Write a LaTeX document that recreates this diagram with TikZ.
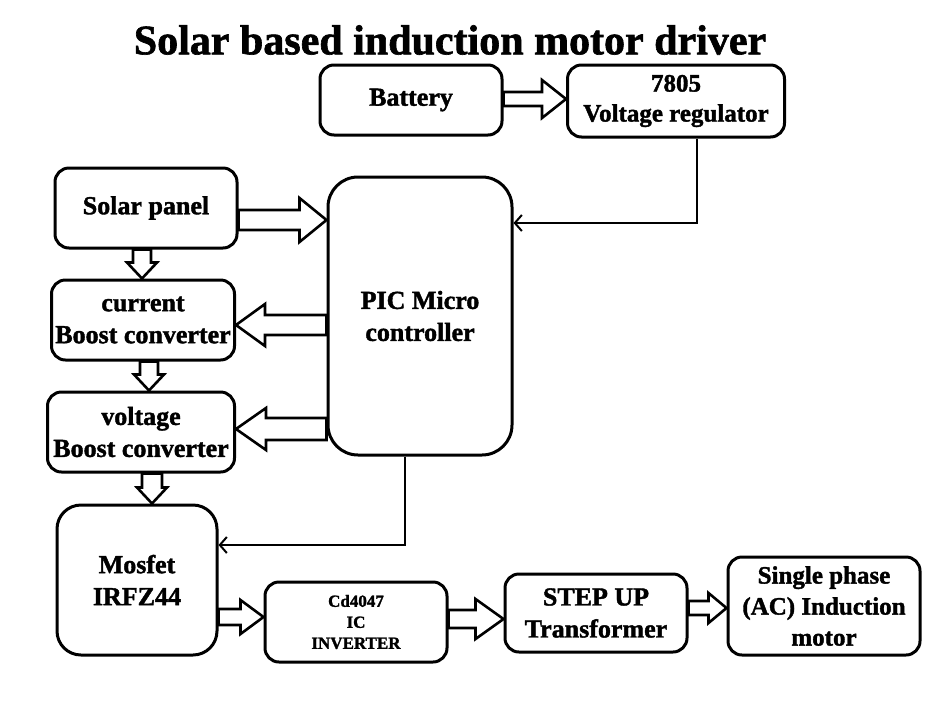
\documentclass[tikz,border=0pt]{standalone}
\usepackage{fontspec}
\setmainfont[BoldFeatures={FakeBold=1.5}]{Liberation Serif}
\usetikzlibrary{arrows.meta,positioning,calc}

% hollow block arrow: from, to, half shaft, half head, head length
\newcommand{\blockarrow}[5]{%
  \coordinate (ba-a) at (#1);
  \coordinate (ba-b) at (#2);
  \coordinate (ba-m) at ($(ba-b)!#5!(ba-a)$);
  \draw[blockarr] ($(ba-a)!#3!90:(ba-b)$) -- ($(ba-m)!#3!-90:(ba-a)$) -- ($(ba-m)!#4!-90:(ba-a)$) -- (ba-b)
    -- ($(ba-m)!#4!90:(ba-a)$) -- ($(ba-m)!#3!90:(ba-a)$) -- ($(ba-a)!#3!-90:(ba-b)$) -- cycle;
}

\begin{document}
\begin{tikzpicture}[x=1pt,y=-1pt,
  font=\bfseries\fontsize{26}{32}\selectfont,
  blk/.style={draw,line width=3pt,rounded corners=14pt,align=center,inner sep=0pt},
  blockarr/.style={draw,line width=2.6pt,fill=white,line join=miter},
  sig/.style={line width=2pt,-{Straight Barb[length=7pt,width=16pt,line width=2pt]}}]
\useasboundingbox (0,0) rectangle (937,705);
\node (title) at (450,40) {\fontsize{42}{46}\selectfont Solar based induction motor driver};
% top row
\node[blk,minimum width=182,minimum height=70] (bat) at (411,100) {Battery};
\node[blk,minimum width=217,minimum height=72,font=\bfseries\fontsize{25}{30}\selectfont] (reg) at (676,101) {7805\\Voltage regulator};
% left column
\node[blk,minimum width=182,minimum height=80] (sol) at (146,208) {Solar panel};
\node[blk,minimum width=183,minimum height=80] (cur) at (143,320) {current\\Boost converter};
\node[blk,minimum width=187,minimum height=80] (vol) at (141,432) {voltage\\Boost converter};
\node[blk,minimum width=160,minimum height=150,rounded corners=24pt] (mos) at (137,580) {Mosfet\\IRFZ44};
\node[blk,minimum width=184,minimum height=278,rounded corners=30pt] (pic) at (420,316) {PIC Micro\\controller};
% bottom row
\node[blk,minimum width=182,minimum height=80,font=\bfseries\fontsize{17}{21}\selectfont] (ic) at (356,622) {Cd4047\\IC\\INVERTER};
\node[blk,minimum width=182,minimum height=78] (stp) at (596,613) {STEP UP\\Transformer};
\node[blk,minimum width=192,minimum height=98,font=\bfseries\fontsize{25}{31}\selectfont] (mot) at (824,606) {Single phase\\(AC) Induction\\motor};

\blockarrow{bat.east |- 0,99}{reg.west |- 0,99}{7pt}{19pt}{24pt}
\blockarrow{sol.east |- 0,220}{pic.west |- 0,220}{10pt}{22pt}{27pt}
\blockarrow{sol.south -| 142,0}{cur.north -| 142,0}{9pt}{15pt}{16pt}
\blockarrow{cur.south -| 149,0}{vol.north -| 149,0}{9pt}{15pt}{16pt}
\blockarrow{vol.south -| 152,0}{mos.north -| 152,0}{10pt}{15pt}{16pt}
\blockarrow{pic.west |- 0,325}{cur.east |- 0,325}{10pt}{21pt}{29pt}
\blockarrow{pic.west |- 0,429}{vol.east |- 0,429}{11pt}{21pt}{30pt}
\blockarrow{mos.east |- 0,617}{ic.west |- 0,617}{8pt}{17pt}{23pt}
\blockarrow{ic.east |- 0,619}{stp.west |- 0,619}{9pt}{20pt}{28pt}
\blockarrow{stp.east |- 0,608}{mot.west |- 0,608}{7pt}{15pt}{18pt}

\draw[sig] ([xshift=21pt]reg.south) |- (pic.east |- 0,223);
\draw[sig] ([xshift=-15pt]pic.south) |- (mos.east |- 0,545);
\end{tikzpicture}
\end{document}
